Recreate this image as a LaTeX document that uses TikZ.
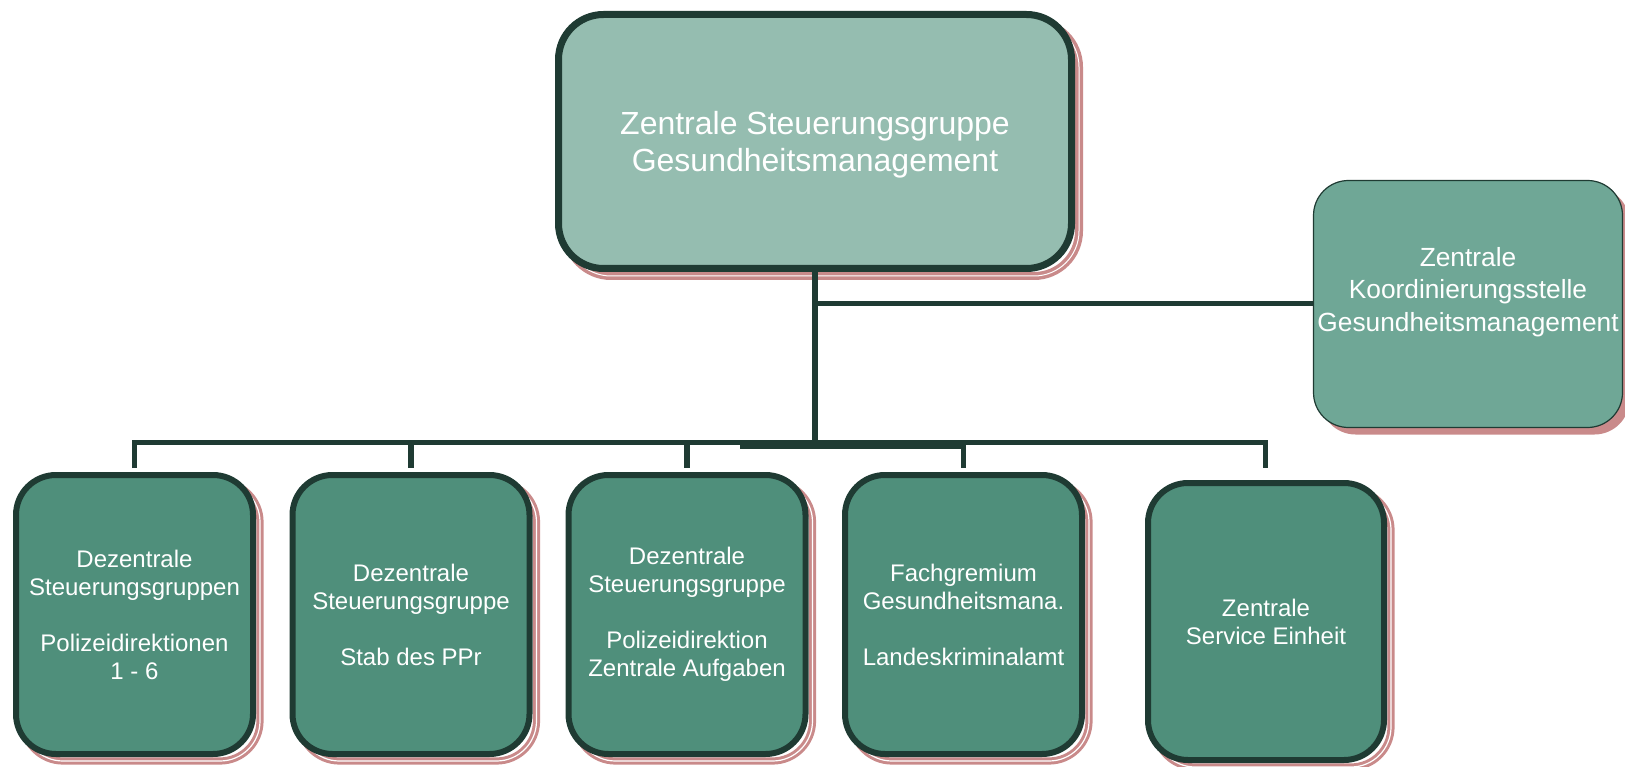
\documentclass[tikz,border=0pt]{standalone}
\usepackage{fontspec}
\setmainfont{Liberation Sans}
\usetikzlibrary{calc}
\pgfdeclarelayer{background}
\pgfsetlayers{background,main}
\definecolor{dk}{HTML}{1F3B33}
\definecolor{topfill}{HTML}{95BDB0}
\definecolor{rfill}{HTML}{6FA796}
\definecolor{bfill}{HTML}{4F8F7B}
\definecolor{pinkc}{HTML}{C98A8A}
\begin{document}
\begin{tikzpicture}[x=1pt,y=-1pt,
  topbox/.style={draw=dk, fill=topfill, line width=7pt, rounded corners=45pt,
    minimum width=513pt, minimum height=254pt, outer sep=0pt, inner sep=0pt},
  toptext/.style={text=white, align=center, inner sep=0pt, font=\fontsize{32}{37}\selectfont},
  rbox/.style={draw=dk, fill=rfill, line width=1.2pt, rounded corners=35pt,
    minimum width=309pt, minimum height=247pt, outer sep=0pt, inner sep=0pt},
  rtext/.style={text=white, align=center, inner sep=0pt, font=\fontsize{26.3}{32.5}\selectfont},
  bbox/.style={draw=dk, fill=bfill, line width=6pt, rounded corners=40pt,
    minimum width=237pt, minimum height=279pt, outer sep=0pt, inner sep=0pt,
    text=white, align=center, font=\fontsize{24}{28}\selectfont},
  topshadow/.style={draw=pinkc, line width=3.5pt, double=white, double distance=1pt, rounded corners=45pt},
  bshadow/.style={draw=pinkc, line width=3pt, double=white, double distance=1.2pt, rounded corners=40pt},
  rshadow/.style={fill=pinkc, rounded corners=35pt},
  conn/.style={draw=dk, line width=5.5pt, line join=miter}
]
\useasboundingbox (0,0) rectangle (1625,767);

% boxes
\node[topbox] (top) at (815,141.5) {};
\node[toptext] (toptxt) at ([yshift=-3pt]top.center) {Zentrale Steuerungsgruppe\\Gesundheitsmanagement};
\node[rbox] (kst) at (1468,304) {};
\node[rtext] (ksttext) at ([yshift=12pt]kst.center) {Zentrale\\Koordinierungsstelle\\Gesundheitsmanagement};

\node[bbox] (b1) at (134.5,614.5) {Dezentrale\\Steuerungsgruppen\\[28pt]Polizeidirektionen\\1 - 6};
\node[bbox] (b2) at (411,614.5) {Dezentrale\\Steuerungsgruppe\\[28pt]Stab des PPr};
\node[bbox] (b3) at (687,614.5) {Dezentrale\\Steuerungsgruppe\\[28pt]Polizeidirektion\\Zentrale Aufgaben};
\node[bbox] (b4) at (963.5,614.5) {Fachgremium\\Gesundheitsmana.\\[28pt]Landeskriminalamt};
\node[bbox, minimum width=236pt, minimum height=277pt] (b5) at (1266,621.5) {Zentrale\\Service Einheit};

% shadows
\begin{pgfonlayer}{background}
\draw[topshadow] ($(top.north west)+(7.5,7.5)$) rectangle ($(top.south east)+(7.5,7.5)$);
\fill[rshadow] ($(kst.north west)+(7,7)$) rectangle ($(kst.south east)+(7,7)$);
\foreach \b in {b1,b2,b3,b4,b5}
  \draw[bshadow] ($(\b.north west)+(7,7)$) rectangle ($(\b.south east)+(7,7)$);
\end{pgfonlayer}

% connectors
\coordinate (jb) at (815,449);
\coordinate (bl) at (134.5,442.5);
\coordinate (br) at (1265.5,442.5);
\coordinate (d1) at (134.5,468);
\coordinate (d2) at (411,468);
\coordinate (d3) at (687,468);
\coordinate (d4) at (963.5,468);
\coordinate (d5) at (1265.5,468);
\coordinate (tk1) at (740,446.5);
\coordinate (tk2) at (966,446.5);

\draw[conn, line width=6pt] (top.south) -- (jb);
\draw[conn, line width=5pt] (top.south |- kst.west) -- (kst.west);
\draw[conn] (d1) -- (bl) -- (br) -- (d5);
\draw[conn, line width=5pt] (tk1) -- (tk2);
\foreach \d in {d2,d3,d4}
  \draw[conn] (\d |- bl) -- (\d);
\end{tikzpicture}
\end{document}
